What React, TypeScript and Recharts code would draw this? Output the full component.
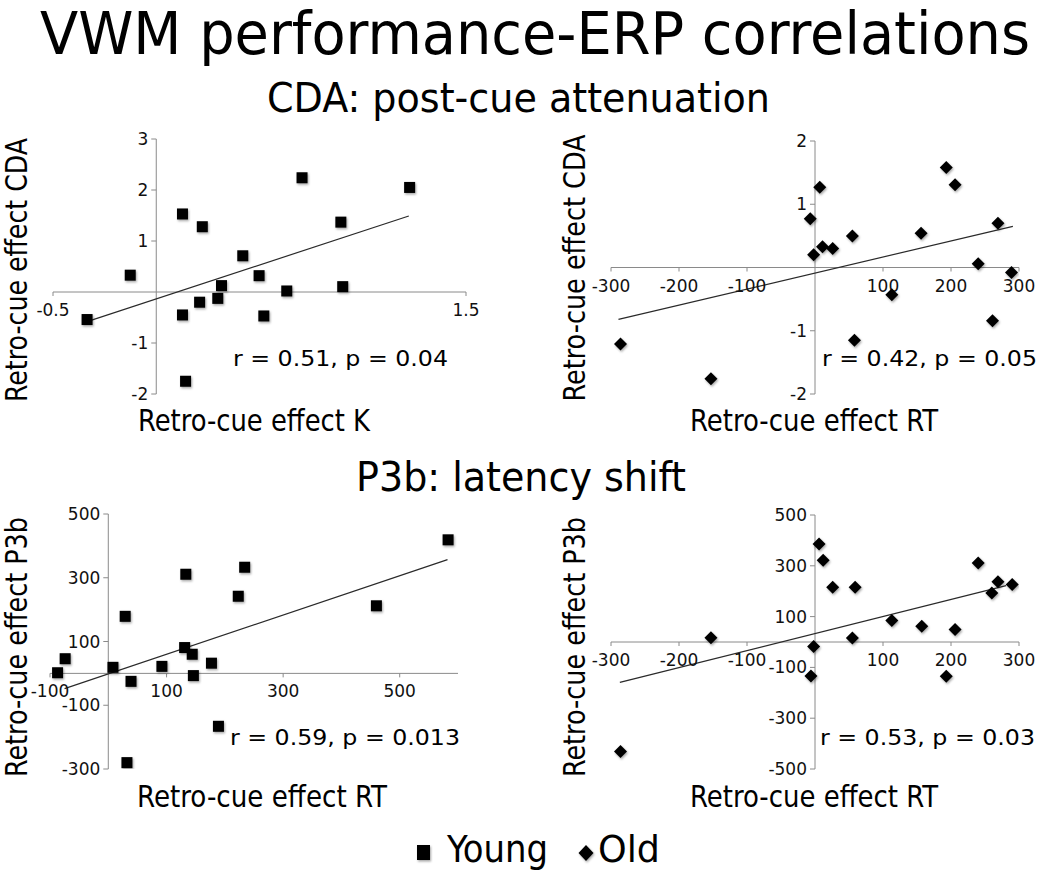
import React from 'react';
import { ScatterChart, Scatter, XAxis, YAxis, ReferenceLine, ReferenceDot } from 'recharts';

// ---------- DATA ----------
// Panel 1: Young, Retro-cue effect K vs Retro-cue effect CDA
const cdaKX = [-0.335, -0.126, 0.127, 0.127, 0.142, 0.21, 0.223, 0.298, 0.316, 0.419, 0.498, 0.521, 0.632, 0.706, 0.894, 0.903, 1.227];
const cdaKY = [-0.54, 0.33, 1.53, -0.45, -1.75, -0.2, 1.28, -0.125, 0.125, 0.71, 0.32, -0.47, 0.02, 2.24, 1.37, 0.105, 2.05];
const cdaKFitX = [-0.335, 1.223];
const cdaKFitY = [-0.58, 1.49];
const cdaKXTicks = [-0.5, 1.5];
const cdaKYTicks = [3, 2, 1, -1, -2];

// Panel 2: Old, Retro-cue effect RT vs Retro-cue effect CDA
const cdaRtX = [-286, -153, -7, -2, 7, 11, 26, 55, 58, 113, 156, 193, 206, 240, 261, 269, 289];
const cdaRtY = [-1.21, -1.76, 0.77, 0.2, 1.27, 0.33, 0.3, 0.5, -1.15, -0.43, 0.54, 1.58, 1.31, 0.06, -0.84, 0.7, -0.08];
const cdaRtFitX = [-289, 291];
const cdaRtFitY = [-0.82, 0.65];
const rtXTicks = [-300, -200, -100, 100, 200, 300];
const cdaRtYTicks = [2, 1, -1, -2];

// Panel 3: Young, Retro-cue effect RT vs Retro-cue effect P3b
const p3bYoungX = [-87, -74, 8, 29, 32, 39, 92, 131, 133, 144, 146, 177, 189, 223, 234, 460, 583];
const p3bYoungY = [2, 46, 19, 179, -280, -25, 22, 81, 311, 60, -7, 32, -166, 242, 333, 212, 419];
const p3bYoungFitX = [-75, 582];
const p3bYoungFitY = [-48, 357];
const p3bYoungXTicks = [-100, 100, 300, 500];
const p3bYoungYTicks = [500, 300, 100, -100, -300];

// Panel 4: Old, Retro-cue effect RT vs Retro-cue effect P3b
const p3bOldX = [-286, -153, -6, -2, 6, 12, 26, 55, 59, 113, 157, 193, 206, 240, 260, 269, 290];
const p3bOldY = [-431, 17, -134, -18, 386, 322, 216, 16, 216, 85, 62, -135, 49, 311, 193, 237, 226];
const p3bOldFitX = [-287, 281];
const p3bOldFitY = [-159, 222];
const p3bOldYTicks = [500, 300, 100, -100, -300, -500];

// Text
const titleText = 'VWM performance-ERP correlations';
const cdaSubtitle = 'CDA: post-cue attenuation';
const p3bSubtitle = 'P3b: latency shift';
const legendLabels = ['Young', 'Old'];
const statLabels = ['r = 0.51, p = 0.04', 'r = 0.42, p = 0.05', 'r = 0.59, p = 0.013', 'r = 0.53, p = 0.03'];
const xAxisLabels = ['Retro-cue effect K', 'Retro-cue effect RT', 'Retro-cue effect RT', 'Retro-cue effect RT'];
const yAxisLabels = ['Retro-cue effect CDA', 'Retro-cue effect CDA', 'Retro-cue effect P3b', 'Retro-cue effect P3b'];

// ---------- STYLE ----------
const FONT = "'DejaVu Sans Condensed', 'DejaVu Sans', Verdana, sans-serif";
const TICK_FONT = "'DejaVu Sans', Verdana, sans-serif";
const AXIS = '#8a8a8a';
const FIT = '#2a2a2a';

const Square = (props: any) => {
  const { cx, cy } = props;
  if (cx == null || cy == null) return null;
  return <rect x={cx - 5.5} y={cy - 5.5} width={11} height={11} fill="#000" filter="url(#mkShadow)" />;
};

const Diamond = (props: any) => {
  const { cx, cy } = props;
  if (cx == null || cy == null) return null;
  const r = 6.5;
  return (
    <polygon
      points={`${cx},${cy - r} ${cx + r},${cy} ${cx},${cy + r} ${cx - r},${cy}`}
      fill="#000"
      filter="url(#mkShadow)"
    />
  );
};

const makeXTick = (label: string) => (sp: any) => {
  const { cx, cy } = sp;
  if (cx == null || cy == null) return <g />;
  return (
    <g>
      <line x1={cx} x2={cx} y1={cy} y2={cy + 4} stroke={AXIS} />
      <text x={cx} y={cy + 24} textAnchor="middle" fontFamily={TICK_FONT} fontSize={17} fill="#111">
        {label}
      </text>
    </g>
  );
};

const makeYTick = (label: string) => (sp: any) => {
  const { cx, cy } = sp;
  if (cx == null || cy == null) return <g />;
  return (
    <g>
      <line x1={cx - 5} x2={cx} y1={cy} y2={cy} stroke={AXIS} />
      <text x={cx - 8} y={cy + 6} textAnchor="end" fontFamily={TICK_FONT} fontSize={17} fill="#111">
        {label}
      </text>
    </g>
  );
};

type PanelProps = {
  left: number; top: number; right: number; bottom: number;
  xDomain: [number, number]; yDomain: [number, number];
  xTicks: number[]; yTicks: number[];
  xs: number[]; ys: number[]; fitX: number[]; fitY: number[];
  marker: any;
};

function Panel(p: PanelProps) {
  const M = 30;
  const plotW = p.right - p.left;
  const plotH = p.bottom - p.top;
  const W = plotW + 2 * M;
  const H = plotH + 2 * M;
  const data = p.xs.map((x, i) => ({ x, y: p.ys[i] }));

  return (
    <div style={{ position: 'absolute', left: p.left - M, top: p.top - M, width: W, height: H }}>
      <ScatterChart width={W} height={H} margin={{ top: M, right: M, bottom: M, left: M }}>
        <XAxis type="number" dataKey="x" domain={p.xDomain} hide allowDataOverflow />
        <YAxis type="number" dataKey="y" domain={p.yDomain} hide allowDataOverflow />
        <ReferenceLine x={0} stroke={AXIS} strokeWidth={1} />
        <ReferenceLine y={0} stroke={AXIS} strokeWidth={1} />
        {p.xTicks.map((v) => (
          <ReferenceDot key={'xt' + v} x={v} y={0} r={1} ifOverflow="visible" shape={makeXTick(String(v))} />
        ))}
        {p.yTicks.map((v) => (
          <ReferenceDot key={'yt' + v} x={0} y={v} r={1} ifOverflow="visible" shape={makeYTick(String(v))} />
        ))}
        <ReferenceLine
          segment={[{ x: p.fitX[0], y: p.fitY[0] }, { x: p.fitX[1], y: p.fitY[1] }]}
          stroke={FIT}
          strokeWidth={1.2}
        />
        <Scatter data={data} shape={p.marker} isAnimationActive={false} />
      </ScatterChart>
    </div>
  );
}

const T = (txt: string, x: number, w: number, base: number, size: number, key: string) => (
  <text key={key} x={x} y={base} textLength={w} lengthAdjust="spacingAndGlyphs" fontFamily={FONT} fontSize={size} fill="#000">
    {txt}
  </text>
);
const TV = (txt: string, bx: number, cy: number, len: number, size: number, key: string) => (
  <text
    key={key}
    transform={`translate(${bx},${cy}) rotate(-90)`}
    x={-len / 2}
    y={0}
    textLength={len}
    lengthAdjust="spacingAndGlyphs"
    fontFamily={FONT}
    fontSize={size}
    fill="#000"
  >
    {txt}
  </text>
);

export default function App() {
  return (
    <div style={{ position: 'absolute', left: 0, top: 0, width: 1050, height: 876, background: '#fff', overflow: 'hidden' }}>
      <svg width={1050} height={876} style={{ position: 'absolute', left: 0, top: 0 }}>
        <defs>
          <filter id="mkShadow" x="-50%" y="-50%" width="200%" height="200%">
            <feDropShadow dx="1" dy="1.5" stdDeviation="1.2" floodColor="#000" floodOpacity="0.35" />
          </filter>
        </defs>
      </svg>

      <Panel left={53} top={139} right={466} bottom={394} xDomain={[-0.5, 1.5]} yDomain={[-2, 3]}
        xTicks={cdaKXTicks} yTicks={cdaKYTicks} xs={cdaKX} ys={cdaKY} fitX={cdaKFitX} fitY={cdaKFitY} marker={Square} />
      <Panel left={611} top={141} right={1019} bottom={394} xDomain={[-300, 300]} yDomain={[-2, 2]}
        xTicks={rtXTicks} yTicks={cdaRtYTicks} xs={cdaRtX} ys={cdaRtY} fitX={cdaRtFitX} fitY={cdaRtFitY} marker={Diamond} />
      <Panel left={50} top={514} right={458} bottom={769} xDomain={[-100, 600]} yDomain={[-300, 500]}
        xTicks={p3bYoungXTicks} yTicks={p3bYoungYTicks} xs={p3bYoungX} ys={p3bYoungY} fitX={p3bYoungFitX} fitY={p3bYoungFitY} marker={Square} />
      <Panel left={611} top={515} right={1019} bottom={769} xDomain={[-300, 300]} yDomain={[-500, 500]}
        xTicks={rtXTicks} yTicks={p3bOldYTicks} xs={p3bOldX} ys={p3bOldY} fitX={p3bOldFitX} fitY={p3bOldFitY} marker={Diamond} />

      <svg width={1050} height={876} style={{ position: 'absolute', left: 0, top: 0, pointerEvents: 'none' }}>
        {T(titleText, 40, 990, 54, 58, 'title')}
        {T(cdaSubtitle, 267, 503, 112, 41, 'sub1')}
        {T(p3bSubtitle, 356, 330, 491, 41, 'sub2')}

        {T(xAxisLabels[0], 138, 232, 431, 30, 'xl0')}
        {T(xAxisLabels[1], 690, 248, 431, 30, 'xl1')}
        {T(xAxisLabels[2], 137, 250, 807, 30, 'xl2')}
        {T(xAxisLabels[3], 690, 248, 807, 30, 'xl3')}

        {TV(yAxisLabels[0], 27, 270, 264, 30, 'yl0')}
        {TV(yAxisLabels[1], 585, 268, 267, 30, 'yl1')}
        {TV(yAxisLabels[2], 27, 647, 260, 30, 'yl2')}
        {TV(yAxisLabels[3], 585, 647, 260, 30, 'yl3')}

        {T(statLabels[0], 233, 215, 366, 22, 'st0')}
        {T(statLabels[1], 822, 215, 366, 22, 'st1')}
        {T(statLabels[2], 230, 230, 745, 22, 'st2')}
        {T(statLabels[3], 820, 215, 745, 22, 'st3')}

        <rect x={417} y={845} width={13} height={15} fill="#000" filter="url(#mkShadow)" />
        {T(legendLabels[0], 447, 101, 862, 38, 'lg0')}
        <polygon points="586,845 593.5,853 586,861 578.5,853" fill="#000" filter="url(#mkShadow)" />
        {T(legendLabels[1], 598, 62, 862, 38, 'lg1')}
      </svg>
    </div>
  );
}
